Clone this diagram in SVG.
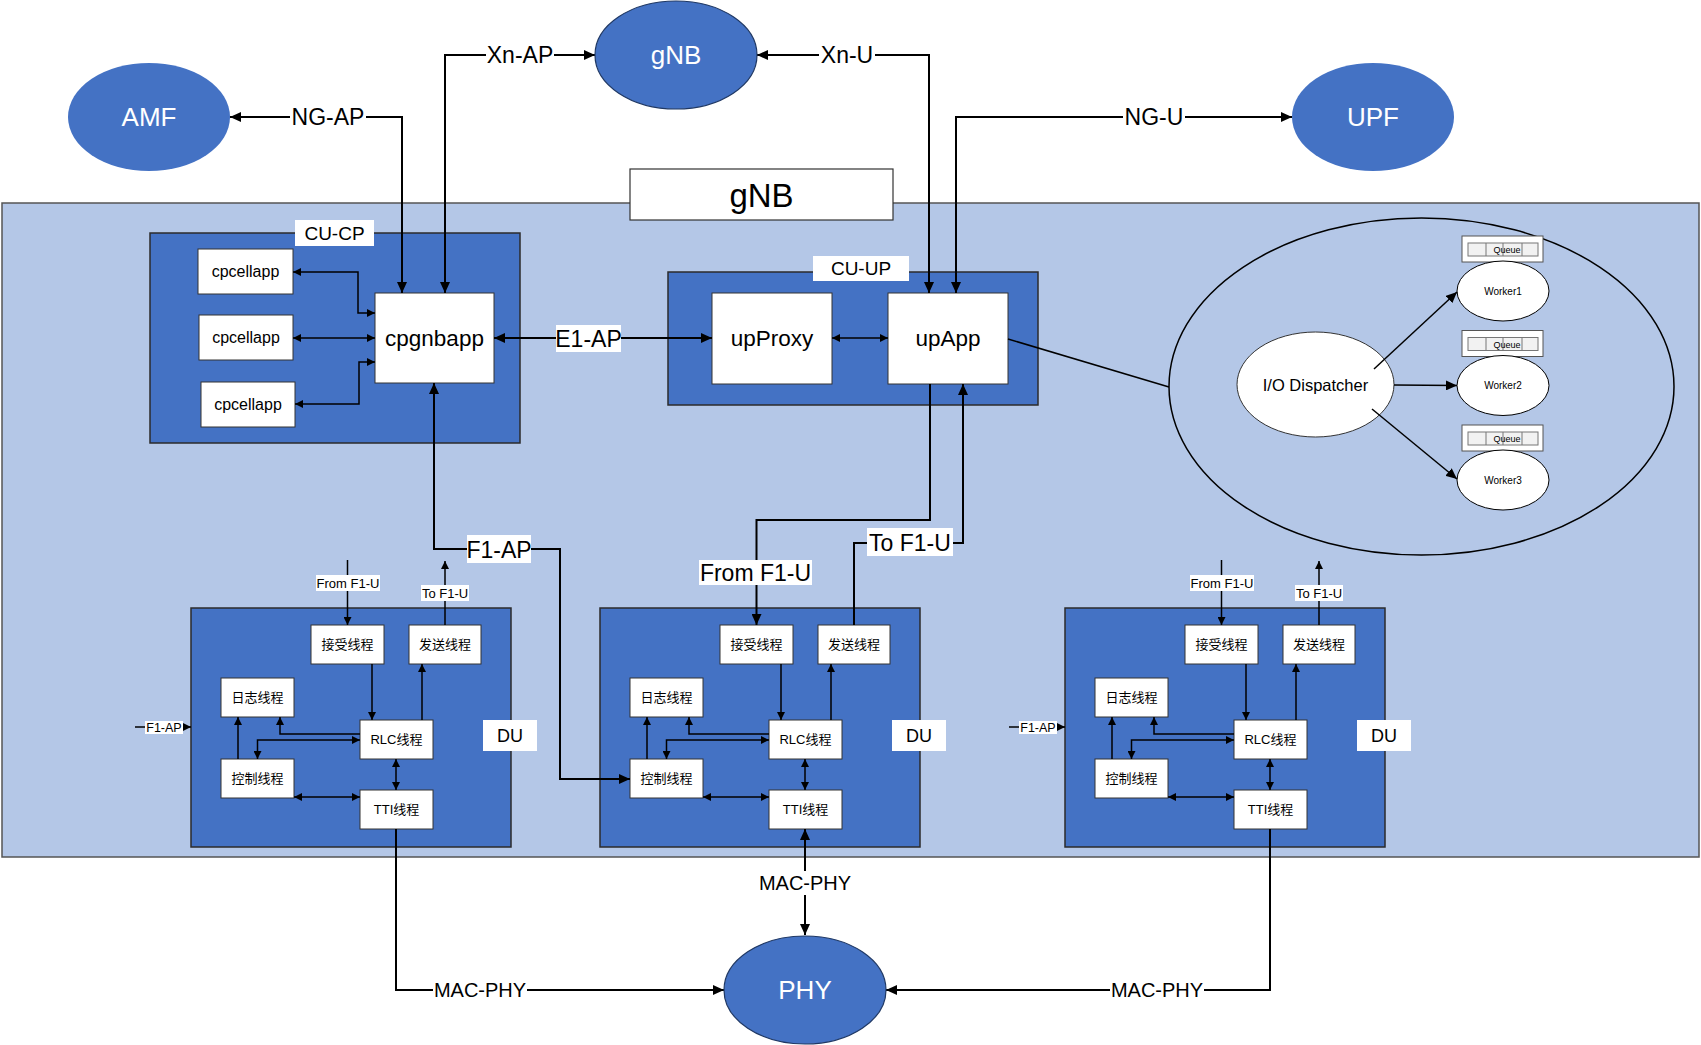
<svg xmlns="http://www.w3.org/2000/svg" width="1701" height="1045" viewBox="0 0 1701 1045">
<style>
text{font-family:"Liberation Sans","Noto Sans CJK SC",sans-serif;text-anchor:middle;dominant-baseline:central;fill:#000}
.bg{fill:#b4c7e7;stroke:#555;stroke-width:1.5}
.blk{fill:#4472c4;stroke:#2b2b2b;stroke-width:1.5}
.box{fill:#fff;stroke:#333;stroke-width:1}
.lbl{fill:#fff;stroke:none}
.ext{fill:#4472c4}
.extS{fill:#4472c4;stroke:#1f3864;stroke-width:1.2}
.wt{fill:#fff;font-size:26px}
.ln{fill:none;stroke:#000;stroke-width:2}
.sl{fill:none;stroke:#000;stroke-width:1.5}
.big{font-size:23px}
.node{font-size:22.5px}
.cell{font-size:16px}
.cj{font-size:13px}
.sm{font-size:13px}
.wk{font-size:10px}
.q{font-size:9px}
.a2{marker-start:url(#ah);marker-end:url(#ah)}
.a1{marker-end:url(#ah)}
.s2{marker-start:url(#sh);marker-end:url(#sh)}
.s1{marker-end:url(#sh)}
</style>
<defs>
<marker id="ah" markerUnits="userSpaceOnUse" markerWidth="11" markerHeight="10" refX="11" refY="5" orient="auto-start-reverse"><path d="M0,0 L11,5 L0,10 z" fill="#000"/></marker>
<marker id="sh" markerUnits="userSpaceOnUse" markerWidth="8" markerHeight="8" refX="8" refY="4" orient="auto-start-reverse"><path d="M0,0 L8,4 L0,8 z" fill="#000"/></marker>
<g id="queueTpl">
<rect x="0" y="0" width="81" height="26" fill="#fff" stroke="#555" stroke-width="1"/>
<rect x="6" y="7" width="70" height="13" fill="#f2f2f2" stroke="#777" stroke-width="1"/>
<path d="M24,7V20M41,7V20M60,7V20" stroke="#777" stroke-width="1"/>
<text class="q" x="45" y="14">Queue</text>
</g>
</defs>
<rect width="1701" height="1045" fill="#fff"/>

<g id="gnb-container">
<rect class="bg" x="2" y="203" width="1697" height="654"/>
<rect x="630" y="169" width="263" height="51" fill="#fff" stroke="#333" stroke-width="1.2"/>
<text x="761.5" y="195" style="font-size:33px">gNB</text>
</g>

<g id="cu-cp">
<rect class="blk" x="150" y="233" width="370" height="210"/>
<rect class="lbl" x="295" y="220" width="79" height="26"/>
<text x="334.5" y="233" style="font-size:19px">CU-CP</text>
<g id="cpcellapp1"><rect class="box" x="198" y="249" width="95" height="45"/><text class="cell" x="245.5" y="271.5">cpcellapp</text></g>
<g id="cpcellapp2"><rect class="box" x="199" y="315" width="94" height="45"/><text class="cell" x="246" y="337.5">cpcellapp</text></g>
<g id="cpcellapp3"><rect class="box" x="201" y="382" width="94" height="45"/><text class="cell" x="248" y="404.5">cpcellapp</text></g>
<g id="cpgnbapp"><rect class="box" x="375" y="293" width="119" height="90"/><text class="node" x="434.5" y="338">cpgnbapp</text></g>
</g>

<g id="cu-up">
<rect class="blk" x="668" y="272" width="370" height="133"/>
<rect class="lbl" x="813" y="256" width="96" height="25"/>
<text x="861" y="268.5" style="font-size:19px">CU-UP</text>
<g id="upProxy"><rect class="box" x="712" y="293" width="120" height="91"/><text class="node" x="772" y="338">upProxy</text></g>
<g id="upApp"><rect class="box" x="888" y="293" width="120" height="91"/><text class="node" x="948" y="338">upApp</text></g>
</g>

<g id="io-pool">
<ellipse cx="1421.5" cy="386.5" rx="252.5" ry="168.5" fill="none" stroke="#000" stroke-width="1.5"/>
<g id="io-dispatcher"><ellipse cx="1315.5" cy="384.5" rx="78.5" ry="52.5" fill="#fff" stroke="#333" stroke-width="1"/><text x="1315.5" y="384.5" style="font-size:16.5px">I/O Dispatcher</text></g>
<g id="queue1"><use href="#queueTpl" x="1462" y="236"/></g>
<g id="worker1"><ellipse cx="1503" cy="291" rx="46" ry="30" fill="#fff" stroke="#000" stroke-width="1"/><text class="wk" x="1503" y="291">Worker1</text></g>
<g id="queue2"><use href="#queueTpl" x="1462" y="330.5"/></g>
<g id="worker2"><ellipse cx="1503" cy="385.5" rx="46" ry="30" fill="#fff" stroke="#000" stroke-width="1"/><text class="wk" x="1503" y="385.5">Worker2</text></g>
<g id="queue3"><use href="#queueTpl" x="1462" y="425"/></g>
<g id="worker3"><ellipse cx="1503" cy="480" rx="46" ry="30" fill="#fff" stroke="#000" stroke-width="1"/><text class="wk" x="1503" y="480">Worker3</text></g>
</g>

<g id="du-left">
<rect class="blk" x="191" y="608" width="320" height="239"/>
<g id="du-left-recv"><rect class="box" x="311" y="625" width="73" height="39"/><text class="cj" x="347.5" y="644.5">接受线程</text></g>
<g id="du-left-send"><rect class="box" x="409" y="625" width="72" height="39"/><text class="cj" x="445" y="644.5">发送线程</text></g>
<g id="du-left-log"><rect class="box" x="221" y="678" width="73" height="39"/><text class="cj" x="257.5" y="697.5">日志线程</text></g>
<g id="du-left-rlc"><rect class="box" x="360" y="720" width="73" height="39"/><text class="cj" x="396.5" y="739.5">RLC线程</text></g>
<g id="du-left-ctrl"><rect class="box" x="221" y="759" width="73" height="39"/><text class="cj" x="257.5" y="778.5">控制线程</text></g>
<g id="du-left-tti"><rect class="box" x="360" y="790" width="73" height="39"/><text class="cj" x="396.5" y="809.5">TTI线程</text></g>
<rect class="lbl" x="483" y="720" width="54" height="31"/><text x="510" y="735.5" style="font-size:18px">DU</text>
</g>

<g id="du-mid" transform="translate(409,0)">
<rect class="blk" x="191" y="608" width="320" height="239"/>
<g id="du-mid-recv"><rect class="box" x="311" y="625" width="73" height="39"/><text class="cj" x="347.5" y="644.5">接受线程</text></g>
<g id="du-mid-send"><rect class="box" x="409" y="625" width="72" height="39"/><text class="cj" x="445" y="644.5">发送线程</text></g>
<g id="du-mid-log"><rect class="box" x="221" y="678" width="73" height="39"/><text class="cj" x="257.5" y="697.5">日志线程</text></g>
<g id="du-mid-rlc"><rect class="box" x="360" y="720" width="73" height="39"/><text class="cj" x="396.5" y="739.5">RLC线程</text></g>
<g id="du-mid-ctrl"><rect class="box" x="221" y="759" width="73" height="39"/><text class="cj" x="257.5" y="778.5">控制线程</text></g>
<g id="du-mid-tti"><rect class="box" x="360" y="790" width="73" height="39"/><text class="cj" x="396.5" y="809.5">TTI线程</text></g>
<rect class="lbl" x="483" y="720" width="54" height="31"/><text x="510" y="735.5" style="font-size:18px">DU</text>
</g>

<g id="du-right" transform="translate(874,0)">
<rect class="blk" x="191" y="608" width="320" height="239"/>
<g id="du-right-recv"><rect class="box" x="311" y="625" width="73" height="39"/><text class="cj" x="347.5" y="644.5">接受线程</text></g>
<g id="du-right-send"><rect class="box" x="409" y="625" width="72" height="39"/><text class="cj" x="445" y="644.5">发送线程</text></g>
<g id="du-right-log"><rect class="box" x="221" y="678" width="73" height="39"/><text class="cj" x="257.5" y="697.5">日志线程</text></g>
<g id="du-right-rlc"><rect class="box" x="360" y="720" width="73" height="39"/><text class="cj" x="396.5" y="739.5">RLC线程</text></g>
<g id="du-right-ctrl"><rect class="box" x="221" y="759" width="73" height="39"/><text class="cj" x="257.5" y="778.5">控制线程</text></g>
<g id="du-right-tti"><rect class="box" x="360" y="790" width="73" height="39"/><text class="cj" x="396.5" y="809.5">TTI线程</text></g>
<rect class="lbl" x="483" y="720" width="54" height="31"/><text x="510" y="735.5" style="font-size:18px">DU</text>
</g>

<g id="connectors">
<!-- external -->
<path class="ln a2" d="M230,117 H402 V293"/>
<path class="ln a2" d="M595,55 H445 V293"/>
<path class="ln a2" d="M757,55 H929 V293"/>
<path class="ln a2" d="M1292,117 H956 V293"/>
<!-- CU-CP internal -->
<path class="sl s2" d="M293,272 H358 V313 H375"/>
<path class="sl s2" d="M293,338 H375"/>
<path class="sl s2" d="M295,404 H359 V362 H375"/>
<path class="ln a2" d="M494,338 H712"/>
<path class="sl s2" d="M832,338 H888"/>
<!-- io -->
<path class="sl" d="M1008,339 L1169,387"/>
<path class="sl a1" d="M1374,369 L1457,292"/>
<path class="sl a1" d="M1394,385 L1457,385.5"/>
<path class="sl a1" d="M1372,409 L1457,479"/>
<!-- F1 -->
<path class="ln a2" d="M434,383 V549 H560 V779 H630"/>
<path class="ln a1" d="M930,384 V520 H756.5 V625"/>
<path class="ln a1" d="M854,625 V543 H963 V384"/>
<!-- MAC-PHY -->
<path class="ln a1" d="M396,829 V990 H724"/>
<path class="ln a2" d="M805,829 V935"/>
<path class="ln a1" d="M1270,829 V990 H886"/>
<!-- DU internal: left -->
<g id="du-left-links">
<path class="sl s1" d="M347.5,560 V625"/>
<path class="sl s1" d="M445,625 V561"/>
<path class="sl s1" d="M135,727 H191"/>
<path class="sl s1" d="M372,664 V720"/>
<path class="sl s1" d="M422,720 V664"/>
<path class="sl s1" d="M360,734 H280 V717"/>
<path class="sl s2" d="M257.5,759 V740 H360"/>
<path class="sl s1" d="M238,759 V717"/>
<path class="sl s2" d="M294,797 H360"/>
<path class="sl s2" d="M396,759 V790"/>
</g>
<g id="du-mid-links" transform="translate(409,0)">
<path class="sl s1" d="M372,664 V720"/>
<path class="sl s1" d="M422,720 V664"/>
<path class="sl s1" d="M360,734 H280 V717"/>
<path class="sl s2" d="M257.5,759 V740 H360"/>
<path class="sl s1" d="M238,759 V717"/>
<path class="sl s2" d="M294,797 H360"/>
<path class="sl s2" d="M396,759 V790"/>
</g>
<g id="du-right-links" transform="translate(874,0)">
<path class="sl s1" d="M347.5,560 V625"/>
<path class="sl s1" d="M445,625 V561"/>
<path class="sl s1" d="M135,727 H191"/>
<path class="sl s1" d="M372,664 V720"/>
<path class="sl s1" d="M422,720 V664"/>
<path class="sl s1" d="M360,734 H280 V717"/>
<path class="sl s2" d="M257.5,759 V740 H360"/>
<path class="sl s1" d="M238,759 V717"/>
<path class="sl s2" d="M294,797 H360"/>
<path class="sl s2" d="M396,759 V790"/>
</g>
<!-- labels -->
<g id="connector-labels">
<rect class="lbl" x="290" y="105" width="76" height="24"/><text class="big" x="328" y="117">NG-AP</text>
<rect class="lbl" x="486" y="43" width="68" height="24"/><text class="big" x="520" y="55">Xn-AP</text>
<rect class="lbl" x="819" y="43" width="56" height="24"/><text class="big" x="847" y="55">Xn-U</text>
<rect class="lbl" x="1123" y="105" width="62" height="24"/><text class="big" x="1154" y="117">NG-U</text>
<rect class="lbl" x="556" y="325" width="65" height="27"/><text class="big" x="588.5" y="339">E1-AP</text>
<rect class="lbl" x="467" y="535" width="64" height="28"/><text class="big" x="499" y="549.5">F1-AP</text>
<rect class="lbl" x="699" y="560" width="113" height="25"/><text class="big" x="755.5" y="573">From F1-U</text>
<rect class="lbl" x="867" y="528" width="86" height="28"/><text class="big" x="910" y="542.5">To F1-U</text>
<rect class="lbl" x="433" y="978" width="94" height="24"/><text x="480" y="990" style="font-size:20px">MAC-PHY</text>
<rect class="lbl" x="758" y="871" width="94" height="24"/><text x="805" y="883" style="font-size:20px">MAC-PHY</text>
<rect class="lbl" x="1110" y="978" width="94" height="24"/><text x="1157" y="990" style="font-size:20px">MAC-PHY</text>
<rect class="lbl" x="316" y="575" width="64" height="16"/><text class="sm" x="348" y="583.5">From F1-U</text>
<rect class="lbl" x="421" y="585" width="48" height="16"/><text class="sm" x="445" y="593.5">To F1-U</text>
<rect class="lbl" x="145" y="721" width="38" height="13"/><text x="164" y="727.5" style="font-size:12.5px">F1-AP</text>
<rect class="lbl" x="1190" y="575" width="64" height="16"/><text class="sm" x="1222" y="583.5">From F1-U</text>
<rect class="lbl" x="1295" y="585" width="48" height="16"/><text class="sm" x="1319" y="593.5">To F1-U</text>
<rect class="lbl" x="1019" y="721" width="38" height="13"/><text x="1038" y="727.5" style="font-size:12.5px">F1-AP</text>
</g>
</g>

<g id="amf"><ellipse class="ext" cx="149" cy="117" rx="81" ry="54"/><text class="wt" x="149" y="117">AMF</text></g>
<g id="gnb-peer"><ellipse class="extS" cx="676" cy="55" rx="81" ry="54"/><text class="wt" x="676" y="55">gNB</text></g>
<g id="upf"><ellipse class="ext" cx="1373" cy="117" rx="81" ry="54"/><text class="wt" x="1373" y="117">UPF</text></g>
<g id="phy"><ellipse class="extS" cx="805" cy="990" rx="81" ry="54"/><text class="wt" x="805" y="990">PHY</text></g>
</svg>
